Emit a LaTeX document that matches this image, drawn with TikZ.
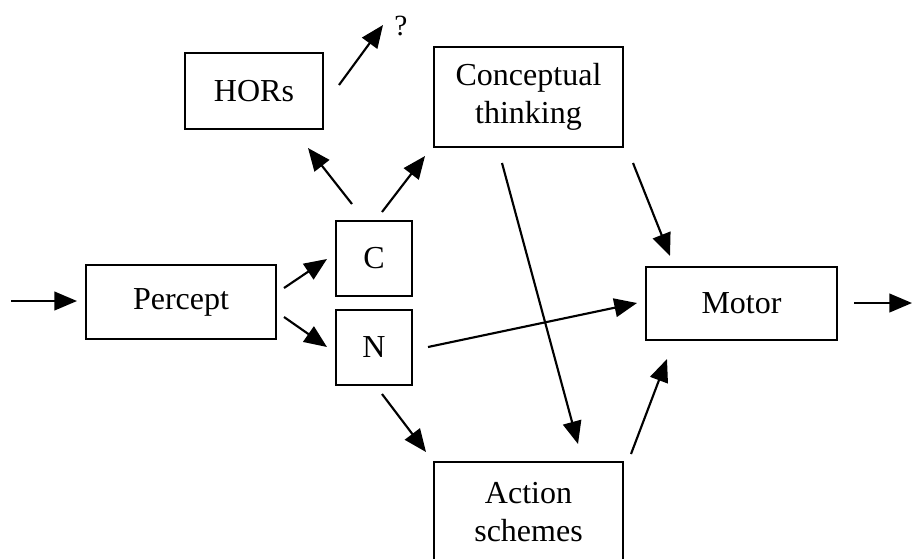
\documentclass[tikz,border=0pt]{standalone}
\usepackage{fontspec}
\setmainfont{Liberation Serif}
\usetikzlibrary{arrows.meta}
\begin{document}
\begin{tikzpicture}[x=0.75pt,y=-0.75pt,
  box/.style={draw,line width=1.5pt,inner sep=0pt,align=center,
    font=\fontsize{24}{28.5}\selectfont},
  arr/.style={line width=1.6pt,-{Triangle[length=17pt,width=14pt]}},
  lbl/.style={inner sep=0pt,font=\fontsize{22}{24}\selectfont}]
\useasboundingbox (0,0) rectangle (913,558);

% boxes
\node[box,minimum width=103.5pt,minimum height=57pt] (hors) at (254,91) {HORs};
\node[box,minimum width=141.75pt,minimum height=75pt] (concept) at (528.5,97) {Conceptual\\thinking};
\node[box,minimum width=57pt,minimum height=56.25pt] (cbox) at (374,258.5) {C};
\node[box,minimum width=57pt,minimum height=56.25pt] (nbox) at (374,347.5) {N};
\node[box,minimum width=142.5pt,minimum height=55.5pt] (percept) at (181,302) {Percept};
\node[box,minimum width=143.25pt,minimum height=54.75pt] (motor) at (741.5,303.5) {Motor};
\node[box,minimum width=141.75pt,minimum height=75pt] (action) at (528.5,512) {Action\\schemes};
\node[lbl] (q) at (401,26) {?};

% free ends of the input and output arrows
\coordinate (src) at (11,301);
\coordinate (sink) at (912,303);

% connectors
\draw[arr] (src) -- ([shift={(-8,-1)}]percept.west);
\draw[arr] ([shift={(7,-14)}]percept.east) -- ([shift={(-8,0.5)}]cbox.west);
\draw[arr] ([shift={(7,15)}]percept.east) -- ([shift={(-8,-0.5)}]nbox.west);
\draw[arr] ([shift={(-22,-16)}]cbox.north) -- ([shift={(54,18)}]hors.south);
\draw[arr] ([shift={(8,-8)}]cbox.north) -- ([shift={(-8,8)}]concept.south west);
\draw[arr] ([shift={(15,-6)}]hors.east) -- ([shift={(-18,-1)}]q.center);
\draw[arr] ([shift={(-26.5,15)}]concept.south) -- ([shift={(49.5,-17)}]action.north);
\draw[arr] ([shift={(9,15)}]concept.south east) -- ([shift={(-71.5,-10)}]motor.north);
\draw[arr] ([shift={(15,-0.5)}]nbox.east) -- ([shift={(-8,-0.5)}]motor.west);
\draw[arr] ([shift={(8,8)}]nbox.south) -- ([shift={(-7,-9)}]action.north west);
\draw[arr] ([shift={(7,-7)}]action.north east) -- ([shift={(-74.5,18)}]motor.south);
\draw[arr] ([shift={(16,-0.5)}]motor.east) -- (sink);
\end{tikzpicture}
\end{document}
